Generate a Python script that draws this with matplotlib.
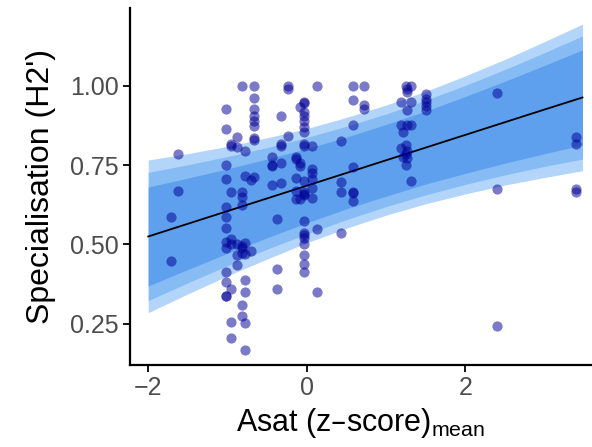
import numpy as np
import matplotlib
matplotlib.use('Agg')
import matplotlib.pyplot as plt

plt.rcParams['font.family'] = ['Liberation Sans', 'DejaVu Sans']
plt.rcParams['mathtext.default'] = 'regular'

# observed points, grouped by x column
col_x = [-1.63, -1.71, -1.02, -0.95, -0.88, -0.82, -0.78, -0.67, -0.70,
         -0.44, -0.38, -0.33, -0.23, -0.14, -0.09, -0.04, 0.07, 0.13,
         0.43, 0.58, 0.72, 1.19, 1.21, 1.25, 1.27, 1.31, 1.51, 2.40, 3.40]
col_y = [
    [0.785, 0.667],
    [0.586, 0.447],
    [0.927, 0.864, 0.75, 0.706, 0.619, 0.586, 0.553, 0.507, 0.49, 0.412, 0.381, 0.339, 0.336],
    [0.818, 0.811, 0.666, 0.516, 0.50, 0.36, 0.257, 0.205],
    [0.840, 0.806, 0.50, 0.468, 0.434],
    [1.00, 0.664, 0.648, 0.625, 0.495, 0.49, 0.474, 0.31, 0.273],
    [0.795, 0.715, 0.505, 0.471, 0.389, 0.349, 0.252, 0.168],
    [1.00, 0.962, 0.927, 0.906, 0.89, 0.874, 0.835, 0.828, 0.711],
    [0.702, 0.479],
    [0.776, 0.750, 0.746, 0.687],
    [0.581, 0.423, 0.36],
    [0.906, 0.816, 0.81, 0.756, 0.692],
    [1.00, 0.99, 0.842],
    [0.776, 0.77, 0.708, 0.669, 0.642],
    [0.933, 0.758, 0.748, 0.642],
    [0.95, 0.946, 0.917, 0.906, 0.89, 0.869, 0.853, 0.816, 0.81, 0.70, 0.664,
     0.660, 0.655, 0.574, 0.537, 0.530, 0.521, 0.50, 0.468, 0.437, 0.412],
    [0.811, 0.737, 0.724, 0.706, 0.679, 0.645],
    [1.00, 0.547, 0.349],
    [0.827, 0.697, 0.666, 0.535],
    [1.00, 0.956, 0.877, 0.743, 0.666, 0.662, 0.637],
    [1.00, 0.94, 0.927],
    [0.948, 0.877, 0.803],
    [0.853, 0.774],
    [1.00, 0.813, 0.785, 0.75],
    [0.99, 0.98, 0.922, 0.877, 0.795, 0.771],
    [1.00, 0.948, 0.877, 0.70],
    [0.975, 0.959, 0.948, 0.936, 0.922],
    [0.978, 0.674, 0.244],
    [0.840, 0.818, 0.674, 0.664],
]

# fitted line and credible bands
band_x   = [-2.0, -1.5, -1.0, -0.5, 0.0, 0.5, 1.0, 1.5, 2.0, 2.5, 3.0, 3.48]
fit_y    = [0.525, 0.565, 0.605, 0.645, 0.685, 0.725, 0.765, 0.805, 0.845, 0.885, 0.925, 0.963]
outer_lo = [0.285, 0.344, 0.401, 0.454, 0.505, 0.551, 0.592, 0.628, 0.659, 0.687, 0.711, 0.732]
outer_hi = [0.766, 0.786, 0.809, 0.836, 0.865, 0.900, 0.939, 0.982, 1.031, 1.083, 1.139, 1.194]
mid_lo   = [0.323, 0.379, 0.433, 0.485, 0.533, 0.578, 0.619, 0.656, 0.689, 0.719, 0.746, 0.769]
mid_hi   = [0.727, 0.751, 0.777, 0.805, 0.837, 0.872, 0.911, 0.954, 1.001, 1.051, 1.104, 1.157]
inner_lo = [0.369, 0.421, 0.472, 0.521, 0.568, 0.612, 0.652, 0.690, 0.724, 0.756, 0.786, 0.813]
inner_hi = [0.681, 0.709, 0.738, 0.769, 0.802, 0.838, 0.878, 0.920, 0.966, 1.014, 1.064, 1.113]

asat = np.concatenate([[x] * len(ys) for x, ys in zip(col_x, col_y)])
h2 = np.concatenate(col_y)

fig = plt.figure(figsize=(5.92, 4.47), dpi=100)
ax = fig.add_axes([130 / 592, 82 / 447, 462 / 592, 357 / 447])

ax.fill_between(band_x, outer_lo, outer_hi, color='#B3D5FA', lw=0)
ax.fill_between(band_x, mid_lo, mid_hi, color='#86BBF4', lw=0)
ax.fill_between(band_x, inner_lo, inner_hi, color='#5FA0EE', lw=0)
ax.plot(band_x, fit_y, color='black', lw=1.3)
ax.scatter(asat, h2, s=54, color='#000096', alpha=0.52, lw=0, zorder=3)

ax.set_xlim(-2.23, 3.6)
ax.set_ylim(0.12, 1.245)
ax.set_xticks([-2, 0, 2])
ax.set_xticklabels(['\u22122', '0', '2'])
ax.set_yticks([0.25, 0.50, 0.75, 1.00])
ax.set_yticklabels(['0.25', '0.50', '0.75', '1.00'])

for side in ['top', 'right']:
    ax.spines[side].set_visible(False)
for side in ['left', 'bottom']:
    ax.spines[side].set_linewidth(1.6)
ax.tick_params(length=5, width=1.3, labelsize=18, labelcolor='#4D4D4D', pad=3)

ax.set_ylabel("Specialisation (H2')", fontsize=23, labelpad=10)
ax.set_xlabel('Asat (z\u2013score)$_{mean}$', fontsize=22, labelpad=4)

fig.savefig('out.png', dpi=100)
